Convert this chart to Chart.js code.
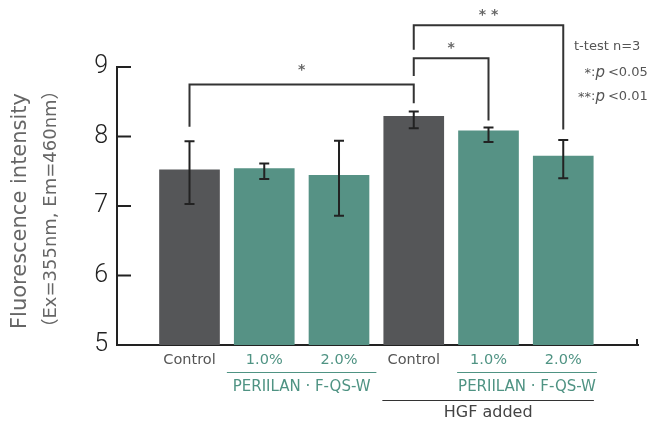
<!DOCTYPE html>
<html>
<head>
<meta charset="utf-8">
<script src="https://cdn.jsdelivr.net/npm/chart.js@4.4.1/dist/chart.umd.min.js"></script>
<style>
html,body{margin:0;padding:0;background:#fff;}
#wrap{width:653px;height:421px;position:relative;}
</style>
</head>
<body>
<div id="wrap"><canvas id="c" width="653" height="421"></canvas></div>
<script>
// ---- data ----
const categories = ['Control', '1.0%', '2.0%', 'Control', '1.0%', '2.0%'];
const means      = [7.52, 7.54, 7.44, 8.29, 8.08, 7.72];
const errHigh    = [7.93, 7.61, 7.94, 8.36, 8.13, 7.95];
const errLow     = [7.03, 7.39, 6.86, 8.12, 7.92, 7.40];
const groupKind  = ['control', 'sample', 'sample', 'control', 'sample', 'sample'];
const yTicks     = [5, 6, 7, 8, 9];
const sampleName = 'PERIILAN · F-QS-W';
const hgfLabel   = 'HGF added';
const sigLabels  = ['*', '*', '**'];
const sigPairs   = [[0, 3], [3, 4], [3, 5]];
const yTitle1    = 'Fluorescence intensity';
const yTitle2    = '（Ex=355nm, Em=460nm）';
const noteLines  = ['t-test n=3', '*:p <0.05', '**:p <0.01'];

// ---- styles ----
const DARK = '#555658';
const TEAL = '#569285';
const TEAL_TEXT = '#4f9383';
const LINE = '#222222';
const FONT = '"DejaVu Sans", "Noto Sans CJK JP", sans-serif';

// bracket geometry in value space: [barLevel, leftLegEnd, rightLegEnd]
const bracketGeom = [
  [8.75, 8.14, 8.48],
  [9.125, 8.87, 8.23],
  [9.60, 9.25, 8.10]
];

const overlay = {
  id: 'overlay',
  afterDatasetsDraw(chart) {
    const ctx = chart.ctx;
    const xs = chart.scales.x, ys = chart.scales.y;
    const area = chart.chartArea;
    const X = v => xs.getPixelForValue(v);
    const Y = v => ys.getPixelForValue(v);
    ctx.save();

    // error bars
    ctx.strokeStyle = LINE;
    ctx.lineWidth = 2;
    means.forEach((m, i) => {
      const cx = X(i);
      const t = Y(errHigh[i]), b = Y(errLow[i]);
      ctx.beginPath();
      ctx.moveTo(cx, t); ctx.lineTo(cx, b);
      ctx.moveTo(cx - 5, t); ctx.lineTo(cx + 5, t);
      ctx.moveTo(cx - 5, b); ctx.lineTo(cx + 5, b);
      ctx.stroke();
    });

    // inner y tick marks
    ctx.lineWidth = 2;
    yTicks.forEach(v => {
      ctx.beginPath();
      ctx.moveTo(area.left, Y(v));
      ctx.lineTo(area.left + 14, Y(v));
      ctx.stroke();
    });
    // right end tick of x axis
    ctx.beginPath();
    ctx.moveTo(area.right - 1, area.bottom);
    ctx.lineTo(area.right - 1, area.bottom - 6);
    ctx.stroke();

    // significance brackets
    ctx.strokeStyle = '#333';
    ctx.lineWidth = 2;
    sigPairs.forEach((p, k) => {
      const [lvl, l1, l2] = bracketGeom[k];
      const x1 = X(p[0]), x2 = X(p[1]);
      ctx.beginPath();
      ctx.moveTo(x1, Y(l1));
      ctx.lineTo(x1, Y(lvl));
      ctx.lineTo(x2, Y(lvl));
      ctx.lineTo(x2, Y(l2));
      ctx.stroke();
      ctx.fillStyle = '#666';
      ctx.font = 'bold 14px ' + FONT;
      ctx.textAlign = 'center';
      ctx.textBaseline = 'alphabetic';
      const label = sigLabels[k].split('').join(' ');
      ctx.fillText(label, (x1 + x2) / 2, Y(lvl) - 6 - (k === 0 ? 4 : 0));
    });

    // note text
    ctx.fillStyle = '#555';
    ctx.textBaseline = 'middle';
    ctx.font = '13px ' + FONT;
    ctx.textAlign = 'left';
    ctx.fillText(noteLines[0], 574, 47);
    [1, 2].forEach((j, n) => {
      const s = noteLines[j];
      const stars = s.slice(0, s.indexOf(':'));
      const rest = s.slice(s.indexOf(':') + 1);
      const yy = 73 + n * 24;
      const ax = 591;
      ctx.font = '13px ' + FONT;
      ctx.textAlign = 'right';
      ctx.fillText(stars, ax, yy + 1);
      ctx.textAlign = 'left';
      ctx.fillText(':', ax, yy);
      let cx = ax + ctx.measureText(':').width;
      ctx.font = 'italic 15px ' + FONT;
      ctx.fillText('p', cx, yy);
      cx += ctx.measureText('p').width + 3;
      ctx.font = '13px ' + FONT;
      ctx.fillText(rest.replace(/^p\s*/, ''), cx, yy);
    });

    // x labels
    ctx.textAlign = 'center';
    ctx.textBaseline = 'middle';
    ctx.font = '14.5px ' + FONT;
    categories.forEach((c, i) => {
      ctx.fillStyle = groupKind[i] === 'control' ? '#555' : TEAL_TEXT;
      ctx.fillText(c, X(i), 360);
    });
    // sample group underlines + names
    const groupsAt = [[0.5, 2.5], [3.58, 5.45]];
    groupsAt.forEach(g => {
      ctx.strokeStyle = TEAL_TEXT;
      ctx.lineWidth = 1.2;
      ctx.beginPath();
      ctx.moveTo(X(g[0]), 372.5); ctx.lineTo(X(g[1]), 372.5);
      ctx.stroke();
      ctx.fillStyle = TEAL_TEXT;
      ctx.font = '15px ' + FONT;
      ctx.fillText(sampleName, (X(g[0]) + X(g[1])) / 2, 387);
    });
    // HGF line
    ctx.strokeStyle = '#333';
    ctx.lineWidth = 1.2;
    ctx.beginPath();
    ctx.moveTo(X(2.58), 400.5); ctx.lineTo(X(5.41), 400.5);
    ctx.stroke();
    ctx.fillStyle = '#444';
    ctx.font = '16px ' + FONT;
    ctx.fillText(hgfLabel, (X(2.58) + X(5.41)) / 2, 413);

    // y title
    ctx.save();
    ctx.translate(21, 211);
    ctx.rotate(-Math.PI / 2);
    ctx.fillStyle = '#666';
    ctx.font = '21px ' + FONT;
    ctx.fillText(yTitle1, 0, 0);
    ctx.restore();
    ctx.save();
    ctx.translate(51, 209);
    ctx.rotate(-Math.PI / 2);
    ctx.fillStyle = '#666';
    ctx.font = '18px ' + FONT;
    ctx.fillText(yTitle2, 0, 0);
    ctx.restore();

    ctx.restore();
  }
};

new Chart(document.getElementById('c'), {
  type: 'bar',
  data: {
    datasets: [{
      data: means.map((y, i) => ({ x: i, y })),
      backgroundColor: groupKind.map(k => k === 'control' ? DARK : TEAL),
      borderWidth: 0,
      barThickness: 60
    }]
  },
  options: {
    responsive: false,
    animation: false,
    devicePixelRatio: 1,
    layout: { padding: { top: 67, right: 15, bottom: 76, left: 0 } },
    plugins: { legend: { display: false }, tooltip: { enabled: false }, title: { display: false } },
    scales: {
      x: {
        type: 'linear',
        offset: false,
        min: -0.97,
        max: 6.0,
        grid: { display: false, drawTicks: false, offset: false },
        border: { display: true, color: LINE, width: 2 },
        ticks: { display: false },
        afterFit: s => { s.height = 0; }
      },
      y: {
        min: 5,
        max: 9,
        afterBuildTicks: s => { s.ticks = yTicks.map(v => ({ value: v })); },
        grid: { display: false, drawTicks: false },
        border: { display: true, color: LINE, width: 2 },
        ticks: {
          padding: 9,
          color: '#222',
          font: { family: 'Roboto', size: 25, weight: 300 }
        },
        afterFit: s => { s.width = 117; }
      }
    }
  },
  plugins: [overlay]
});
</script>
</body>
</html>
